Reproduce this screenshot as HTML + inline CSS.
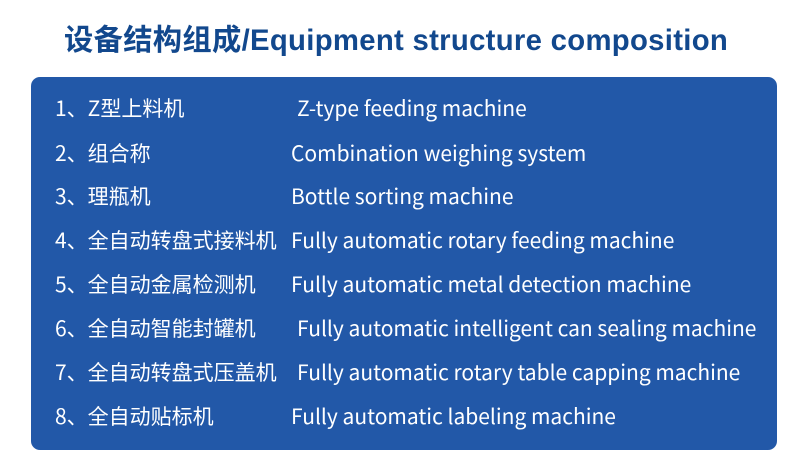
<!DOCTYPE html>
<html><head><meta charset="utf-8"><style>
body{margin:0;width:790px;height:464px;background:#fff;position:relative;overflow:hidden;font-family:"Liberation Sans","Noto Sans CJK SC",sans-serif}
.t{position:absolute;left:64px;top:17px;font-size:29.3px;font-weight:bold;color:#12488d;white-space:nowrap;letter-spacing:0.3px}
.box{position:absolute;left:31px;top:77px;width:746px;height:373px;background:#2258a8;border-radius:9px}
.r{position:absolute;color:#fff;font-size:21px;white-space:nowrap;line-height:24px;font-family:"Noto Sans CJK SC","Liberation Sans",sans-serif}
</style></head><body>
<div class="t">设备结构组成/Equipment structure composition</div>
<div class="box"></div>
<div class="r" style="left:55px;top:96px">1、Z型上料机</div><div class="r" style="left:297px;top:96px">Z-type feeding machine</div>
<div class="r" style="left:55px;top:141px">2、组合称</div><div class="r" style="left:291px;top:141px">Combination weighing system</div>
<div class="r" style="left:55px;top:184px">3、理瓶机</div><div class="r" style="left:291px;top:184px">Bottle sorting machine</div>
<div class="r" style="left:55px;top:228px">4、全自动转盘式接料机</div><div class="r" style="left:291px;top:228px">Fully automatic rotary feeding machine</div>
<div class="r" style="left:55px;top:272px">5、全自动金属检测机</div><div class="r" style="left:291px;top:272px">Fully automatic metal detection machine</div>
<div class="r" style="left:55px;top:316px">6、全自动智能封罐机</div><div class="r" style="left:297px;top:316px">Fully automatic intelligent can sealing machine</div>
<div class="r" style="left:55px;top:360px">7、全自动转盘式压盖机</div><div class="r" style="left:297px;top:360px">Fully automatic rotary table capping machine</div>
<div class="r" style="left:55px;top:404px">8、全自动贴标机</div><div class="r" style="left:291px;top:404px">Fully automatic labeling machine</div>
</body></html>
